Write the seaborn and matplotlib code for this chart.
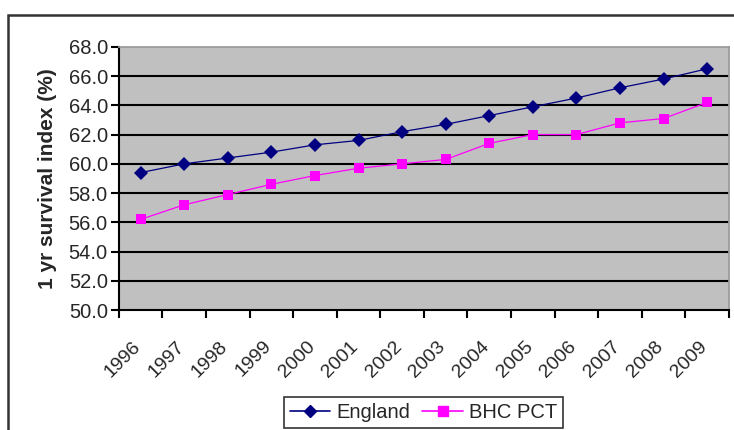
import matplotlib

matplotlib.use("Agg")

import matplotlib.pyplot as plt
import pandas as pd
import seaborn as sns
from matplotlib.patches import Rectangle

years = ["1996", "1997", "1998", "1999", "2000", "2001", "2002",
         "2003", "2004", "2005", "2006", "2007", "2008", "2009"]
england = [59.4, 60.0, 60.4, 60.8, 61.3, 61.6, 62.2,
           62.7, 63.3, 63.9, 64.5, 65.2, 65.8, 66.5]
bhc_pct = [56.2, 57.2, 57.9, 58.6, 59.2, 59.7, 60.0,
           60.3, 61.4, 62.0, 62.0, 62.8, 63.1, 64.2]
y_ticks = [50.0, 52.0, 54.0, 56.0, 58.0, 60.0, 62.0, 64.0, 66.0, 68.0]

sns.set_theme(style="white")
plt.rcParams["font.family"] = ["Liberation Sans", "DejaVu Sans"]

df = pd.DataFrame({
    "pos": list(range(len(years))) * 2,
    "value": england + bhc_pct,
    "series": ["England"] * len(years) + ["BHC PCT"] * len(years),
})

fig = plt.figure(figsize=(7.34, 4.30), dpi=100)
ax = fig.add_axes([0.162, 0.279, 0.831, 0.612])
ax.set_facecolor("#c0c0c0")

sns.lineplot(
    data=df, x="pos", y="value", hue="series", style="series",
    palette={"England": "#000080", "BHC PCT": "#ff00ff"},
    markers={"England": "D", "BHC PCT": "s"},
    dashes=False, linewidth=0.9, markersize=7, markeredgewidth=0,
    ax=ax, legend=False, zorder=3,
)

ax.set_xlim(-0.5, len(years) - 0.5)
ax.set_ylim(50, 68)
ax.set_yticks(y_ticks)
ax.set_yticklabels([f"{v:.1f}" for v in y_ticks], fontsize=14.5)
# category boundaries carry the tick marks, labels sit near the centres
ax.set_xticks([i - 0.5 for i in range(len(years) + 1)])
ax.set_xticklabels([])
ax.set_xticks([i - 0.2 for i in range(len(years))], minor=True)
ax.set_xticklabels(years, minor=True, rotation=45, ha="right",
                   rotation_mode="anchor", fontsize=14)
ax.tick_params(axis="x", which="major", direction="out", length=6,
               width=1.5, color="black", bottom=True)
ax.tick_params(axis="x", which="minor", length=0, pad=20)
ax.tick_params(axis="y", direction="out", length=6, width=1.5,
               color="black", left=True, pad=2)

for y in y_ticks[1:-1]:
    ax.axhline(y, color="black", linewidth=1.5, zorder=1)

ax.spines["left"].set_color("black")
ax.spines["left"].set_linewidth(1.5)
ax.spines["bottom"].set_color("black")
ax.spines["bottom"].set_linewidth(1.5)
ax.spines["top"].set_color("#999999")
ax.spines["right"].set_color("#999999")

ax.set_xlabel("")
ax.set_ylabel("1 yr survival index (%)", fontsize=15, fontweight="bold",
              labelpad=8)

handles = [
    plt.Line2D([], [], color="#000080", marker="D", markersize=6,
               linewidth=1.2, label="England"),
    plt.Line2D([], [], color="#ff00ff", marker="s", markersize=7,
               linewidth=1.2, label="BHC PCT"),
]
leg = fig.legend(handles=handles, loc="upper center", ncol=2,
                 bbox_to_anchor=(0.577, 0.077), fontsize=14.5,
                 frameon=True, fancybox=False, edgecolor="black",
                 handlelength=2.0, columnspacing=0.6, handletextpad=0.3,
                 borderpad=0.3, borderaxespad=0)
leg.get_frame().set_linewidth(1.2)

fig.patches.append(Rectangle((8 / 734, -0.1), 1.2, 1.1 - 15 / 430,
                             transform=fig.transFigure, fill=False,
                             edgecolor="#333333", linewidth=1.8,
                             clip_on=False))

fig.savefig("out.png", dpi=100)
